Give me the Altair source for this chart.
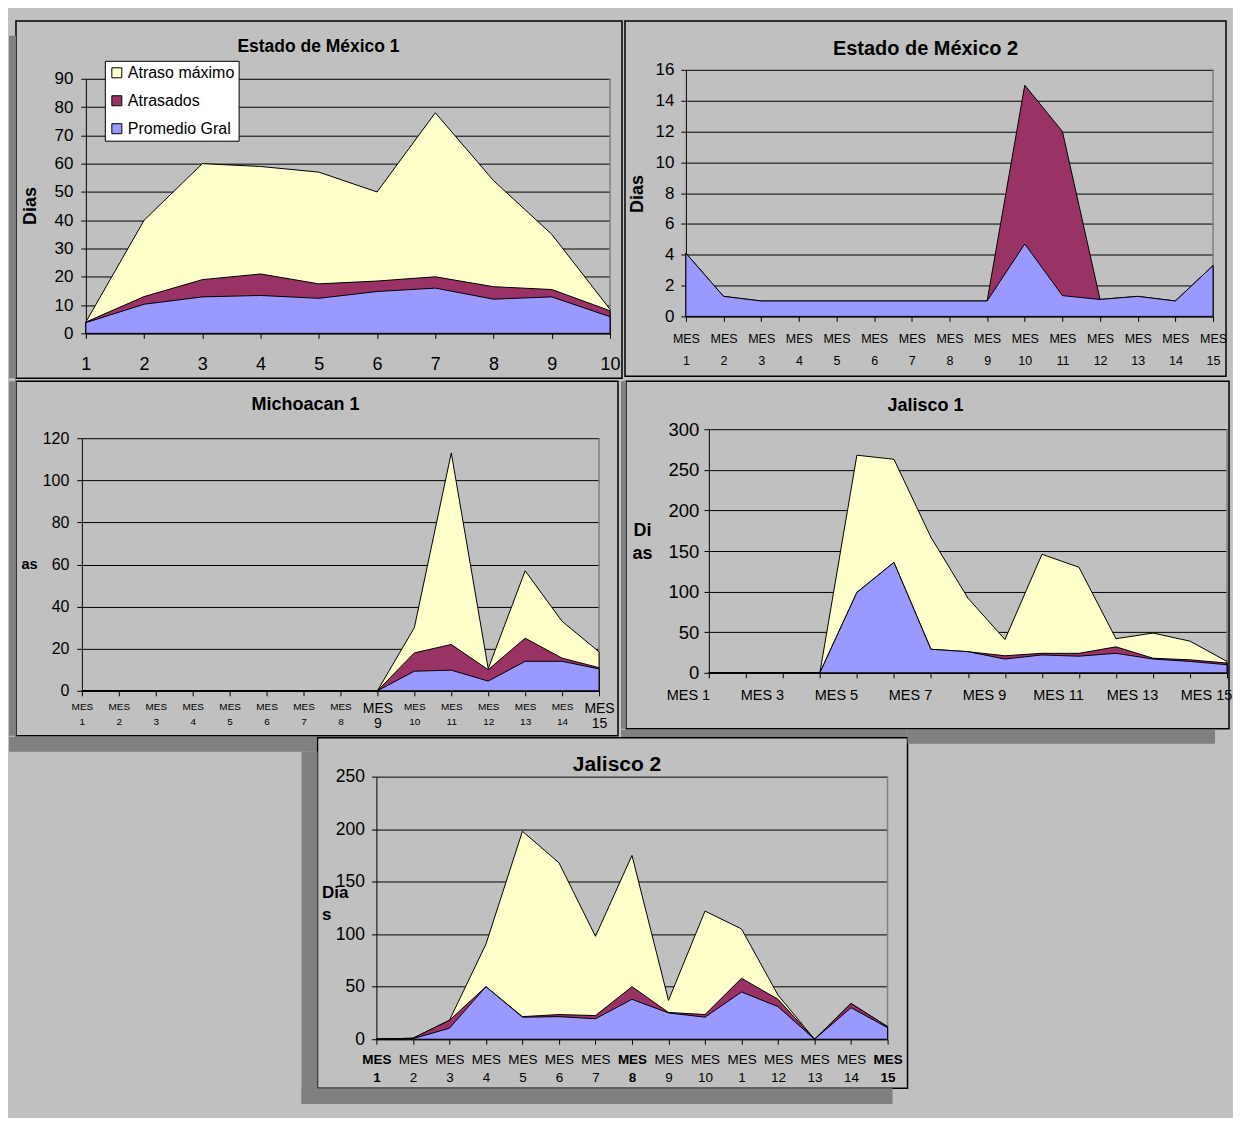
import json
import altair as alt
import pandas as pd

FONT = "Liberation Sans"
SERIES = ["Atraso máximo", "Atrasados", "Promedio Gral"]
COLORS = ["#ffffcc", "#993366", "#9999ff"]
BG = "#c0c0c0"
SHADOW = "#808080"

# ---------------- data ----------------
# Estado de México 1
a_x = [1, 2, 3, 4, 5, 6, 7, 8, 9, 10]
a_max = [4, 40, 60, 59, 57, 50, 78, 54, 35, 8.5]
a_atr = [4, 13, 19, 21, 17.5, 18.5, 20, 16.5, 15.5, 8]
a_prom = [3.8, 10.3, 12.9, 13.4, 12.4, 14.8, 16, 12.1, 12.9, 5.9]
a_yticks = [0, 10, 20, 30, 40, 50, 60, 70, 80, 90]

# Estado de México 2
b_x = list(range(1, 16))
b_atr = [4.1, 1.3, 1.0, 1.0, 1.0, 1.0, 1.0, 1.0, 1.0, 15, 12, 1.1, 1.3, 1.0, 3.3]
b_prom = [4.1, 1.3, 1.0, 1.0, 1.0, 1.0, 1.0, 1.0, 1.0, 4.7, 1.35, 1.1, 1.3, 1.0, 3.3]
b_yticks = [0, 2, 4, 6, 8, 10, 12, 14, 16]
b_xlabels = [["MES", str(i)] for i in range(1, 16)]

# Michoacan 1
c_x = list(range(1, 16))
c_max = [0, 0, 0, 0, 0, 0, 0, 0, 0, 30, 113, 10.5, 57, 33, 18.5]
c_atr = [0, 0, 0, 0, 0, 0, 0, 0, 0, 18, 22, 10, 25, 15.5, 11]
c_prom = [0, 0, 0, 0, 0, 0, 0, 0, 0, 9.3, 9.8, 4.6, 14, 14, 10.4]
c_yticks = [0, 20, 40, 60, 80, 100, 120]
c_xlabels = [["MES", str(i)] for i in range(1, 16)]

# Jalisco 1
d_x = list(range(1, 16))
d_max = [0, 0, 0, 0, 268, 263, 167, 92, 41, 146, 130, 42, 49, 39, 14]
d_atr = [0, 0, 0, 0, 99, 136, 29, 26, 21, 24, 24, 32, 18, 16, 12]
d_prom = [0, 0, 0, 0, 99, 136, 29, 26, 17, 22, 20.5, 24, 17, 14, 10]
d_yticks = [0, 50, 100, 150, 200, 250, 300]
d_xlabels = ["MES 1", "", "MES 3", "", "MES 5", "", "MES 7", "", "MES 9", "",
             "MES 11", "", "MES 13", "", "MES 15"]

# Jalisco 2
e_x = list(range(1, 16))
e_max = [0, 1, 18, 90.5, 198, 168, 98, 175, 37, 122, 105, 42, 0, 34, 12]
e_atr = [0, 1, 18, 50, 21.5, 23.5, 22.5, 50, 25.5, 23.5, 58, 38, 0, 34, 12]
e_prom = [0, 0.5, 10.5, 50, 21, 21.5, 19.5, 38, 25, 21, 45, 31, 0, 30, 11]
e_yticks = [0, 50, 100, 150, 200, 250]
e_xlabels = [["MES", "1"], ["MES", "2"], ["MES", "3"], ["MES", "4"], ["MES", "5"],
             ["MES", "6"], ["MES", "7"], ["MES", "8"], ["MES", "9"], ["MES", "10"],
             ["MES", "1"], ["MES", "12"], ["MES", "13"], ["MES", "14"], ["MES", "15"]]


def long_df(xs, series):
    rows = []
    for name, vals in series.items():
        for x, v in zip(xs, vals):
            rows.append({"x": x, "serie": name, "v": v})
    return pd.DataFrame(rows)


def yaxis(values, size, pad, offset, title, tx, ty, tsize, angle=-90,
          align="center", baseline="middle", lh=None):
    kw = dict(values=values, labelFontSize=size, labelPadding=pad, tickSize=5,
              offset=offset, grid=True, gridColor="black", gridWidth=1,
              domainColor="black", tickColor="black", labelColor="black",
              labelFont=FONT, title=title, titleX=tx, titleY=ty,
              titleAngle=angle, titleAlign=align, titleBaseline=baseline,
              titleFont=FONT, titleFontSize=tsize, titleFontWeight="bold",
              titleColor="black")
    if lh:
        kw["titleLineHeight"] = lh
    return alt.Axis(**kw)


def xaxis(n, labels, size, pad, offset, lh=None, loff=0, size_cond=None,
          weight_cond=None):
    kw = dict(values=list(range(1, n + 1)), labelFontSize=size, labelPadding=pad,
              tickSize=5, offset=offset, grid=False, domainColor="black",
              tickColor="black", labelColor="black", labelFont=FONT,
              labelFlush=False, labelOverlap=False, labelBound=False, title="")
    if labels is not None:
        kw["labelExpr"] = json.dumps(labels, ensure_ascii=False) + "[datum.value - 1]"
    else:
        kw["format"] = "d"
    if lh:
        kw["labelLineHeight"] = lh
    if loff:
        kw["labelOffset"] = loff
    if size_cond:
        kw["labelFontSize"] = size_cond
    if weight_cond:
        kw["labelFontWeight"] = weight_cond
    return alt.Axis(**kw)


ONE = alt.Data(values=[{"k": 0}])


def shadow_layer(x0, y0, x1, y1):
    return (alt.Chart(ONE).mark_rect(fill=SHADOW, strokeWidth=0)
            .encode(x=alt.value(x0), x2=alt.value(x1), y=alt.value(y0), y2=alt.value(y1)))


def panel(df, present, frame_w, frame_h, plot, xdom, ydom, xax, yax, title,
          shadows, legend=None):
    """frame = the view; plot = (left, top, right, bottom) inside the frame."""
    pl, pt, pr, pb = plot
    layers = [shadow_layer(*s) for s in shadows]
    # gray right border of the plot area
    layers.append(alt.Chart(ONE).mark_rule(color=SHADOW, strokeWidth=1.5)
                  .encode(x=alt.value(pr), y=alt.value(pt), y2=alt.value(pb)))
    xs = alt.Scale(domain=xdom, range=[pl, pr], nice=False, zero=False)
    ys = alt.Scale(domain=ydom, range=[pb, pt], nice=False)
    cs = alt.Scale(domain=SERIES, range=COLORS)
    for s in present:
        color = (alt.Color("serie:N", scale=cs, legend=legend) if legend is not None
                 else alt.Color("serie:N", scale=cs, legend=None))
        layers.append(
            alt.Chart(df).transform_filter(alt.datum.serie == s)
            .mark_area(stroke="black", strokeWidth=1, opacity=1, fillOpacity=1)
            .encode(x=alt.X("x:Q", scale=xs, axis=xax),
                    y=alt.Y("v:Q", scale=ys, axis=yax, stack=None),
                    color=color)
        )
    # chart title
    text, size, cx, cy = title
    layers.append(alt.Chart(ONE).mark_text(text=text, font=FONT, fontSize=size,
                                           fontWeight="bold", color="black",
                                           align="center", baseline="middle")
                  .encode(x=alt.value(cx), y=alt.value(cy)))
    return alt.layer(*layers).properties(width=frame_w, height=frame_h)


# ---------------- panels ----------------
# Estado de México 1 : frame 607x358, plot (70, 58, 595, 313)
dfA = long_df(a_x, {SERIES[0]: a_max, SERIES[1]: a_atr, SERIES[2]: a_prom})
legA = alt.Legend(orient="none", legendX=89, legendY=40, title=None,
                  fillColor="white", strokeColor="black", padding=4,
                  symbolType="square", symbolSize=100, symbolStrokeColor="black",
                  symbolStrokeWidth=1, symbolOpacity=1, labelFontSize=16,
                  labelFont=FONT, labelColor="black", rowPadding=12, labelOffset=3)
pA = panel(dfA, SERIES, 607, 358, (70, 58, 595, 313), [1, 10], [0, 90],
           xaxis(10, None, 18, 17, -45),
           yaxis(a_yticks, 17, 8, -70, "Dias", -55, 185, 18),
           ("Estado de México 1", 17.5, 303, 26),
           [(-7, 15, 0, 358)], legend=legA)

# Estado de México 2 : frame 602x356, plot (61, 49, 589, 296)
dfB = long_df(b_x, {SERIES[1]: b_atr, SERIES[2]: b_prom})
pB = panel(dfB, SERIES[1:], 602, 356, (61, 49, 589, 296), [1, 15], [0, 16],
           xaxis(15, b_xlabels, 12.5, 11, -60, lh=22),
           yaxis(b_yticks, 17, 7, -61, "Dias", -48, 173, 18),
           ("Estado de México 2", 20, 301, 28),
           [])

# Michoacan 1 : frame 603x355, plot (66, 57, 584, 310)
dfC = long_df(c_x, {SERIES[0]: c_max, SERIES[1]: c_atr, SERIES[2]: c_prom})
pC = panel(dfC, SERIES, 603, 355, (66, 57, 584, 310), [1, 15], [0, 120],
           xaxis(15, c_xlabels, 10, 6, -45, lh=15,
                 size_cond={"condition": {"test": "datum.value == 9 || datum.value == 15",
                                          "value": 14}, "value": 10}),
           yaxis(c_yticks, 16, 8, -66, "as", -53, 184, 14.5, angle=0),
           ("Michoacan 1", 18, 290, 24),
           [(-7, 0, 0, 355)])

# Jalisco 1 : frame 604x348, plot (83, 48, 602, 292)
dfD = long_df(d_x, {SERIES[0]: d_max, SERIES[1]: d_atr, SERIES[2]: d_prom})
pD = panel(dfD, SERIES, 604, 348, (83, 48, 602, 292), [1, 15], [0, 300],
           xaxis(15, d_xlabels, 14.5, 11, -56, loff=-21),
           yaxis(d_yticks, 18.5, 5, -83, ["Di", "as"], -67, 140, 18, angle=0,
                 baseline="top", lh=24),
           ("Jalisco 1", 18, 300, 25),
           [(-5, 0, 0, 348)])

# Jalisco 2 : frame 591x351, plot (59, 39, 571, 302)
# its layer also draws the bottom shadow of "Jalisco 1" (above its own frame)
dfE = long_df(e_x, {SERIES[0]: e_max, SERIES[1]: e_atr, SERIES[2]: e_prom})
pE = panel(dfE, SERIES, 591, 351, (59, 39, 571, 302), [1, 15], [0, 250],
           xaxis(15, e_xlabels, 13.5, 8, -49, lh=18,
                 weight_cond={"condition": {"test": "datum.value == 1 || datum.value == 8 || datum.value == 15",
                                            "value": "bold"}, "value": "normal"}),
           yaxis(e_yticks, 17.5, 7, -59, ["Dia", "s"], -55, 147, 17, angle=0,
                 align="left", baseline="top", lh=22),
           ("Jalisco 2", 21, 300, 27),
           [(-16, 14, 0, 367), (-16, 351, 576, 367),
            (304, -8, 591, -0.75), (591, -8, 899, 6)])

# spacer in front of "Jalisco 2": draws the bottom shadow of "Michoacan 1"
spacer = (shadow_layer(-7, -1, 301, 14)
          .properties(width=1, height=1,
                      view=alt.ViewBackground(fillOpacity=0, strokeOpacity=0)))

ind = dict(x="independent", y="independent", color="independent")
row1 = alt.hconcat(pA, pB, spacing=1).resolve_scale(**ind)
row2 = alt.hconcat(pC, pD, spacing=1).resolve_scale(**ind)
row3 = alt.hconcat(spacer, pE, spacing=-16).resolve_scale(**ind)
top = alt.vconcat(row1, row2, spacing=1).resolve_scale(**ind)
chart = (
    alt.vconcat(top, row3, spacing=-8).resolve_scale(**ind)
    .properties(background=BG, padding={"left": 0, "top": 11, "right": 0, "bottom": 12})
    .configure_view(stroke="black", strokeWidth=1.5, fill=BG)
    .configure_axis(labelFont=FONT, titleFont=FONT)
)

chart.save("out.html", embed_options={"renderer": "svg", "actions": False})
